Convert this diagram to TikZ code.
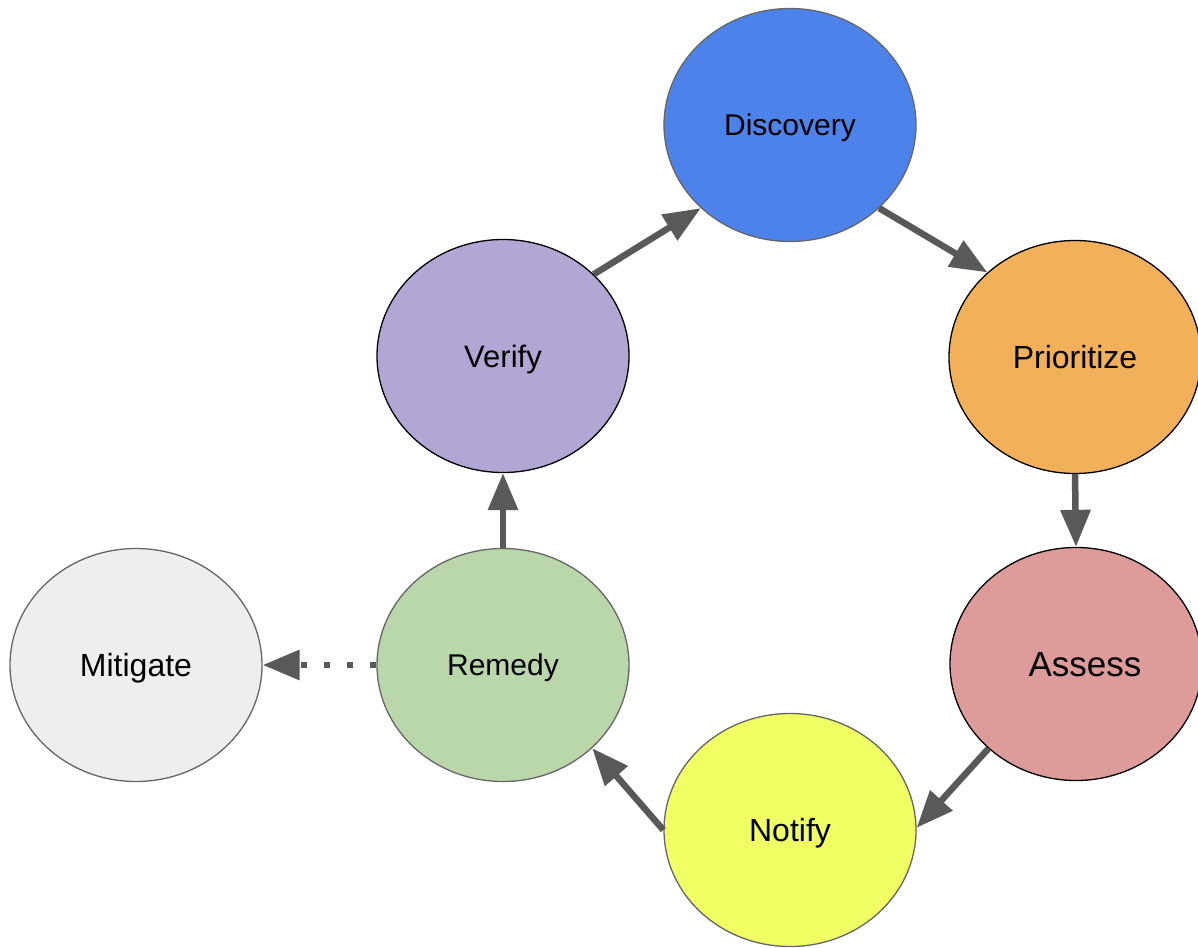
\documentclass[tikz,border=0pt]{standalone}
\usepackage{fontspec}
\setmainfont{Liberation Sans}
\usetikzlibrary{shapes.geometric,arrows.meta}

\definecolor{discoveryfill}{HTML}{4D82EA}
\definecolor{prioritizefill}{HTML}{F3B05A}
\definecolor{assessfill}{HTML}{DD9C99}
\definecolor{notifyfill}{HTML}{F0FF64}
\definecolor{remedyfill}{HTML}{B9D7AA}
\definecolor{verifyfill}{HTML}{B2A6D5}
\definecolor{mitigatefill}{HTML}{EEEEEE}
\definecolor{softedge}{HTML}{666666}
\definecolor{arrowgray}{HTML}{595959}

\begin{document}
\begin{tikzpicture}[x=1pt,y=-1pt,
  stage/.style={ellipse, line width=1.3pt, inner sep=0pt,
    minimum width=252pt, minimum height=233pt, text=black,
    text depth=0pt},
  flow/.style={draw=arrowgray, line width=6.5pt,
    -{Triangle[length=37pt,width=29pt]}},
  optflow/.style={flow, dash pattern=on 6pt off 17pt},
]
\useasboundingbox (0,0) rectangle (1198,947);

% process stages
\node[stage, fill=discoveryfill, draw=softedge, font=\fontsize{30}{36}\selectfont]
  (discovery) at (790,125) {Discovery};
\node[stage, fill=prioritizefill, draw=black, font=\fontsize{32}{38}\selectfont]
  (prioritize) at (1075,357) {Prioritize};
\node[stage, fill=assessfill, draw=black, font=\fontsize{35}{42}\selectfont]
  (assess) at (1076,664) {\hspace*{18pt}Assess};
\node[stage, fill=notifyfill, draw=softedge, font=\fontsize{32}{38}\selectfont]
  (notify) at (790,830) {Notify};
\node[stage, fill=remedyfill, draw=softedge, font=\fontsize{30}{36}\selectfont]
  (remedy) at (503,665) {Remedy};
\node[stage, fill=verifyfill, draw=black, font=\fontsize{31}{37}\selectfont]
  (verify) at (503,356) {Verify};
\node[stage, fill=mitigatefill, draw=softedge, font=\fontsize{32}{38}\selectfont]
  (mitigate) at (136,665) {Mitigate};

% cycle connectors
\draw[flow] (verify.42) -- (discovery.223);
\draw[flow] (discovery.317) -- (prioritize.136);
\draw[flow] (prioritize.270) -- (assess.90);
\draw[flow] (assess.224) -- (notify.1);
\draw[flow] (notify.180) -- (remedy.317);
\draw[flow] (remedy.90) -- (verify.270);

% optional branch
\draw[optflow] (remedy.180) -- (mitigate.0);
\end{tikzpicture}
\end{document}
